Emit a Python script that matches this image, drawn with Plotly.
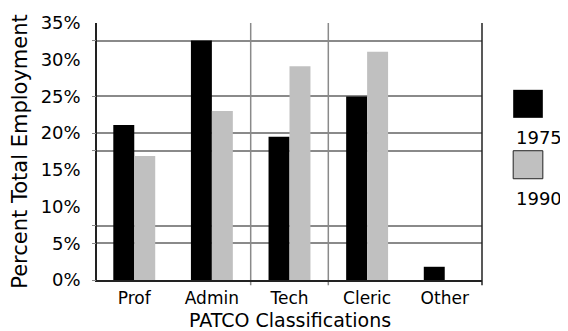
import plotly.graph_objects as go

categories = ["Prof", "Admin", "Tech", "Cleric", "Other"]
y1975 = [21.1, 32.6, 19.5, 25.0, 1.8]
y1990 = [16.9, 23.0, 29.1, 31.1, 0.0]
series_names = ["1975", "1990"]
y_tick_vals = [0, 5, 10, 15, 20, 25, 30, 35]
y_tick_text = ["0%", "5%", "10%", "15%", "20%", "25%", "30%", "35%"]
h_grid_vals = [0, 5, 7.4, 17.6, 20, 25, 32.6]
v_grid_vals = [1.5, 2.5]

FONT = "DejaVu Sans"
FS = 18
XFS = 17
TS = 21
BLACK = "#000000"
GRAY = "#c0c0c0"
GRID = "#8a8a8a"

xs = list(range(len(categories)))

fig = go.Figure()
fig.add_trace(go.Bar(x=xs, y=y1975, name=series_names[0], marker_color=BLACK,
                     marker_line_width=0, showlegend=False, yaxis="y"))
fig.add_trace(go.Bar(x=xs, y=y1990, name=series_names[1], marker_color=GRAY,
                     marker_line_width=0, showlegend=False, yaxis="y"))
# invisible anchor trace for the grid axis
fig.add_trace(go.Scatter(x=[0], y=[0], yaxis="y2", mode="markers",
                         marker_opacity=0, showlegend=False, hoverinfo="skip"))

shapes = []
for v in v_grid_vals:
    shapes.append(dict(type="line", xref="x", yref="paper", x0=v, x1=v,
                       y0=-0.02, y1=1, line=dict(color=GRID, width=1.5), layer="below"))
shapes.append(dict(type="line", xref="paper", yref="paper", x0=1, x1=1,
                   y0=-0.02, y1=1, line=dict(color="#222", width=1.5)))
# legend swatches
shapes.append(dict(type="rect", xref="paper", yref="paper", x0=1.081, x1=1.158,
                   y0=0.631, y1=0.740, fillcolor=BLACK, line=dict(width=0)))
shapes.append(dict(type="rect", xref="paper", yref="paper", x0=1.081, x1=1.158,
                   y0=0.394, y1=0.503, fillcolor=GRAY, line=dict(color="#222", width=1)))

annotations = [
    dict(text=series_names[0], xref="paper", yref="paper", x=1.148, y=0.553,
         xanchor="center", yanchor="middle",
         showarrow=False, font=dict(family=FONT, size=FS, color=BLACK)),
    dict(text=series_names[1], xref="paper", yref="paper", x=1.148, y=0.318,
         xanchor="center", yanchor="middle",
         showarrow=False, font=dict(family=FONT, size=FS, color=BLACK)),
    dict(text="PATCO Classifications", xref="paper", yref="paper", x=0.5, y=0,
         xanchor="center", yanchor="top", yshift=-27,
         showarrow=False, font=dict(family=FONT, size=19, color=BLACK)),
]

fig.update_layout(
    width=560, height=323,
    margin=dict(l=89, r=86, t=15, b=51),
    paper_bgcolor="white", plot_bgcolor="white",
    barmode="group", bargap=0.46, bargroupgap=0,
    font=dict(family=FONT, size=FS, color=BLACK),
    xaxis=dict(range=[-0.48, 4.48], tickvals=xs, ticktext=categories,
               automargin=False,
               showgrid=False, zeroline=False, showline=True, linecolor="#222",
               linewidth=1.5, ticks="outside", ticklen=2, tickcolor="rgba(0,0,0,0)",
               tickfont=dict(size=XFS)),
    yaxis=dict(range=[0, 35], tickvals=y_tick_vals, ticktext=y_tick_text,
               automargin=False,
               showgrid=False, zeroline=False, showline=True, linecolor="#222",
               linewidth=1.5, ticks="outside", ticklen=11,
               tickcolor="rgba(0,0,0,0)", tickfont=dict(size=FS),
               title=dict(text="Percent Total Employment", standoff=9,
                          font=dict(family=FONT, size=TS))),
    yaxis2=dict(range=[0, 35], overlaying="y", side="left", tickvals=h_grid_vals,
                automargin=False,
                showticklabels=False, showgrid=True, gridcolor=GRID, gridwidth=1.5,
                ticks="outside", ticklen=4, tickcolor=GRID, zeroline=False,
                showline=False),
    shapes=shapes,
    annotations=annotations,
)

fig.write_html("out.html")
